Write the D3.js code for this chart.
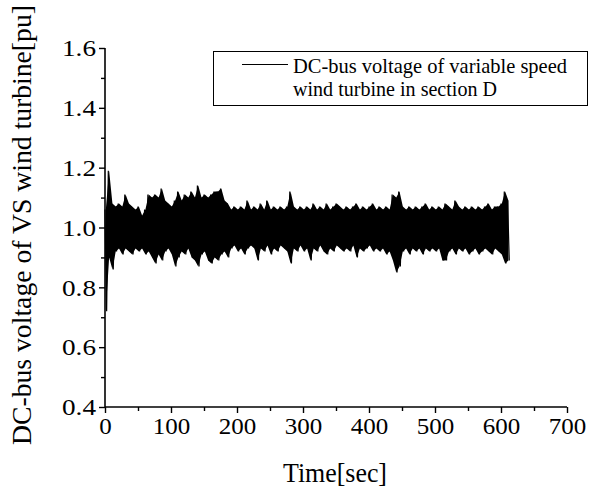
<!DOCTYPE html>
<html>
<head>
<meta charset="utf-8">
<script src="https://cdn.jsdelivr.net/npm/d3@7"></script>
<style>
  html, body { margin: 0; padding: 0; background: #fff; }
  svg { display: block; }
</style>
</head>
<body>
<svg id="chart" width="592" height="492"></svg>
<script>
// ---- data ----
const xTicks = [0, 100, 200, 300, 400, 500, 600, 700];
const yTicks = [0.4, 0.6, 0.8, 1.0, 1.2, 1.4, 1.6];
const xMinorTicks = [50, 150, 250, 350, 450, 550, 650];
const yMinorTicks = [0.5, 0.7, 0.9, 1.1, 1.3, 1.5];
const sampleStart = 0;      // s
const sampleStep = 5;       // s between envelope samples
// upper envelope of the DC-bus voltage [pu], one value every 5 s from t = 0
const upperEnv = [
  1.06, 1.19, 1.08, 1.07, 1.08, 1.07, 1.11, 1.08, 1.07, 1.06,
  1.07, 1.04, 1.06, 1.11, 1.10, 1.11, 1.10, 1.13, 1.09, 1.08,
  1.07, 1.09, 1.12, 1.09, 1.11, 1.10, 1.12, 1.10, 1.14, 1.10,
  1.11, 1.10, 1.11, 1.12, 1.12, 1.13, 1.09, 1.08, 1.06, 1.07,
  1.06, 1.07, 1.06, 1.09, 1.06, 1.07, 1.06, 1.08, 1.06, 1.09,
  1.06, 1.07, 1.06, 1.07, 1.06, 1.07, 1.12, 1.07, 1.06, 1.07,
  1.06, 1.07, 1.06, 1.08, 1.06, 1.07, 1.06, 1.08, 1.06, 1.07,
  1.08, 1.07, 1.06, 1.07, 1.06, 1.07, 1.08, 1.06, 1.07, 1.06,
  1.07, 1.08, 1.06, 1.07, 1.06, 1.07, 1.06, 1.11, 1.10, 1.12,
  1.07, 1.06, 1.07, 1.06, 1.07, 1.06, 1.07, 1.08, 1.06, 1.07,
  1.06, 1.07, 1.06, 1.08, 1.07, 1.06, 1.09, 1.07, 1.06, 1.07,
  1.06, 1.07, 1.06, 1.07, 1.06, 1.07, 1.08, 1.06, 1.07, 1.07,
  1.08, 1.12, 1.09
];
// lower envelope [pu], sampled half a step later than the upper one
const lowerEnv = [
  0.72, 0.90, 0.86, 0.92, 0.93, 0.91, 0.93, 0.92, 0.91, 0.93,
  0.92, 0.93, 0.91, 0.92, 0.90, 0.88, 0.91, 0.89, 0.92, 0.93,
  0.91, 0.87, 0.90, 0.92, 0.91, 0.93, 0.90, 0.89, 0.87, 0.91,
  0.92, 0.89, 0.88, 0.90, 0.89, 0.91, 0.92, 0.90, 0.93, 0.94,
  0.92, 0.93, 0.91, 0.93, 0.94, 0.93, 0.89, 0.93, 0.92, 0.94,
  0.91, 0.93, 0.92, 0.94, 0.93, 0.92, 0.88, 0.93, 0.92, 0.94,
  0.92, 0.93, 0.89, 0.93, 0.92, 0.94, 0.92, 0.91, 0.93, 0.92,
  0.94, 0.93, 0.92, 0.93, 0.92, 0.94, 0.90, 0.93, 0.92, 0.93,
  0.94, 0.92, 0.93, 0.92, 0.93, 0.91, 0.92, 0.89, 0.85, 0.87,
  0.92, 0.93, 0.91, 0.93, 0.92, 0.93, 0.91, 0.93, 0.92, 0.93,
  0.92, 0.93, 0.89, 0.89, 0.92, 0.93, 0.91, 0.93, 0.92, 0.93,
  0.91, 0.92, 0.93, 0.91, 0.92, 0.93, 0.92, 0.91, 0.93, 0.92,
  0.91, 0.88, 0.89
];
const legendLines = ["DC-bus voltage of variable speed", "wind turbine in section D"];
const xTitle = "Time[sec]";
const yTitle = "DC-bus voltage of VS wind turbine[pu]";

// ---- layout ----
const FONT = "'Liberation Serif'";
const svg = d3.select("#chart");
const x = d3.scaleLinear().domain([0, 700]).range([105, 567]);
const y = d3.scaleLinear().domain([0.4, 1.6]).range([407, 48]);

// envelope samples
const env = upperEnv.map((v, i) => ({ t: sampleStart + i * sampleStep, hi: v, lo: lowerEnv[i] }));
// zig-zag signal through the envelope samples
const signal = [];
env.forEach(d => {
  signal.push([d.t, d.hi]);
  signal.push([d.t + sampleStep / 2, d.lo]);
});

// dense core of the signal
svg.append("path")
  .datum(env)
  .attr("fill", "#000")
  .attr("d", d3.area().x(d => x(d.t + sampleStep / 4)).y0(d => y(d.lo)).y1(d => y(d.hi)));
// signal trace
svg.append("path")
  .datum(signal)
  .attr("fill", "none")
  .attr("stroke", "#000")
  .attr("stroke-width", 1.2)
  .attr("d", d3.line().x(d => x(d[0])).y(d => y(d[1])));

// axes
function digitLen(s, w) {
  let n = 0;
  for (const c of s) n += (c === ".") ? 9 : w;
  return n;
}
const yAxis = d3.axisLeft(y).tickValues(yTicks).tickSize(6).tickPadding(3)
  .tickFormat(d3.format(".1f"));
const gy = svg.append("g").attr("transform", "translate(105,0)").call(yAxis);
svg.append("g").attr("class", "minor").attr("transform", "translate(105,0)")
  .call(d3.axisLeft(y).tickValues(yMinorTicks).tickSize(4).tickFormat(""));

const xAxis = d3.axisBottom(x).tickValues(xTicks).tickSize(6).tickPadding(4)
  .tickFormat(d3.format("d"));
const gx = svg.append("g").attr("transform", "translate(0,407)").call(xAxis);
svg.append("g").attr("class", "minor").attr("transform", "translate(0,407)")
  .call(d3.axisBottom(x).tickValues(xMinorTicks).tickSize(4).tickFormat(""));

gy.selectAll("text")
  .style("font-family", FONT).style("font-size", "23px")
  .attr("dy", "0.34em")
  .attr("textLength", d => digitLen(d3.format(".1f")(d), 12.5))
  .attr("lengthAdjust", "spacingAndGlyphs");
gx.selectAll("text")
  .style("font-family", FONT).style("font-size", "23px")
  .attr("dy", "0.72em")
  .attr("textLength", d => digitLen(String(d), 12.5))
  .attr("lengthAdjust", "spacingAndGlyphs");

svg.selectAll(".domain").attr("stroke-width", 1.6).attr("stroke", "#000");
svg.selectAll(".tick line").attr("stroke-width", 1.4).attr("stroke", "#000");
gy.select(".domain").attr("d", `M0,${y(0.4)}V${y(1.6)}`);
gx.select(".domain").attr("d", `M${x(0)},0H${x(700)}`);
svg.selectAll(".minor .domain").remove();

// titles
svg.append("text")
  .attr("x", 335).attr("y", 482)
  .attr("text-anchor", "middle")
  .style("font-family", FONT).style("font-size", "27px")
  .attr("textLength", 104).attr("lengthAdjust", "spacingAndGlyphs")
  .text(xTitle);
svg.append("text")
  .attr("transform", "translate(31,225) rotate(-90)")
  .attr("text-anchor", "middle")
  .style("font-family", FONT).style("font-size", "27px")
  .attr("textLength", 440).attr("lengthAdjust", "spacingAndGlyphs")
  .text(yTitle);

// legend
svg.append("rect")
  .attr("x", 213.5).attr("y", 51.5).attr("width", 374).attr("height", 54)
  .attr("fill", "none").attr("stroke", "#000").attr("stroke-width", 1);
svg.append("line")
  .attr("x1", 242).attr("x2", 288).attr("y1", 64.5).attr("y2", 64.5)
  .attr("stroke", "#000").attr("stroke-width", 1);
const legLens = [274, 204];
legendLines.forEach((s, i) => {
  svg.append("text")
    .attr("x", 293).attr("y", 73 + i * 23)
    .style("font-family", FONT).style("font-size", "22px")
    .attr("textLength", legLens[i]).attr("lengthAdjust", "spacingAndGlyphs")
    .text(s);
});
</script>
</body>
</html>
